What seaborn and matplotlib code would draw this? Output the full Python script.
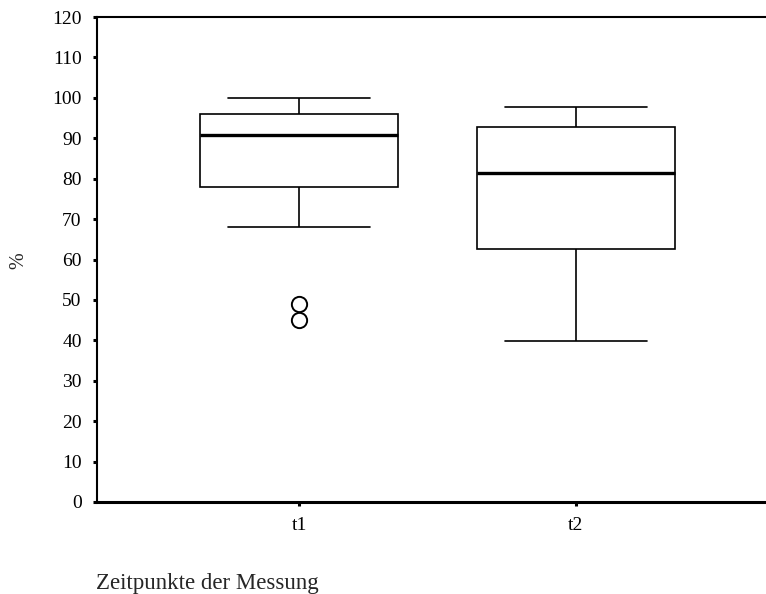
import matplotlib
matplotlib.use("Agg")
import matplotlib.pyplot as plt
import seaborn as sns
import pandas as pd

# Data (constructed so that the drawn box statistics match the reference)
t1_values = [45, 49, 68, 78, 82, 87, 90.8, 92, 94, 96, 98, 99, 100]
t2_values = [39.8, 50, 55, 62.6, 70, 76, 81.4, 85, 90, 92.8, 95, 96, 97.7]
categories = ["t1", "t2"]
y_ticks = [0, 10, 20, 30, 40, 50, 60, 70, 80, 90, 100, 110, 120]
x_title = "Zeitpunkte der Messung"
y_title = "%"

df = pd.DataFrame({
    "Zeitpunkt": ["t1"] * len(t1_values) + ["t2"] * len(t2_values),
    "Wert": t1_values + t2_values,
})

sns.set_style("white")
plt.rcParams["font.family"] = ["Liberation Serif", "DejaVu Serif"]

fig = plt.figure(figsize=(7.66, 5.94), dpi=100)
ax = fig.add_axes([97 / 766, 92 / 594, (778 - 97) / 766, (502 - 17) / 594])

sns.boxplot(
    data=df, x="Zeitpunkt", y="Wert", order=categories, ax=ax,
    color="white", linecolor="black", width=0.715, whis=1.5,
    boxprops=dict(linewidth=1.2, edgecolor="black", facecolor="white"),
    whiskerprops=dict(linewidth=1.2, color="black"),
    capprops=dict(linewidth=1.2, color="black"),
    medianprops=dict(linewidth=2.4, color="black"),
    flierprops=dict(marker="o", markersize=11, markerfacecolor="none",
                    markeredgecolor="black", markeredgewidth=1.4),
)

# cap widths as in reference
for cont in ax.containers:
    caps = getattr(cont, "caps", None)
    if caps is None:
        continue
    for cap in caps:
        xd = cap.get_xdata()
        c = (xd[0] + xd[-1]) / 2
        cap.set_xdata([c - 0.255, c + 0.255])

ax.set_xlim(-0.73, 1.73)
ax.set_ylim(0, 120)
ax.set_yticks(y_ticks)
ax.set_yticklabels([str(v) for v in y_ticks])

for side in ["left", "top"]:
    ax.spines[side].set_linewidth(1.5)
    ax.spines[side].set_color("black")
ax.spines["bottom"].set_linewidth(2.2)
ax.spines["bottom"].set_color("black")
ax.spines["right"].set_visible(False)

ax.tick_params(axis="y", which="both", left=True, length=3, width=2.2,
               direction="out", pad=8, labelsize=14, colors="black")
ax.tick_params(axis="x", which="both", bottom=True, length=3, width=2.2,
               direction="out", pad=8, labelsize=14, colors="black")

ax.set_xlabel("")
ax.set_ylabel("")
fig.text(96 / 766, 1 - 583 / 594, x_title, ha="left", va="center", fontsize=16.5)
fig.text(19 / 766, 1 - 261 / 594, y_title, ha="center", va="center",
         rotation=90, fontsize=14.5)

fig.savefig("out.png", dpi=100)
